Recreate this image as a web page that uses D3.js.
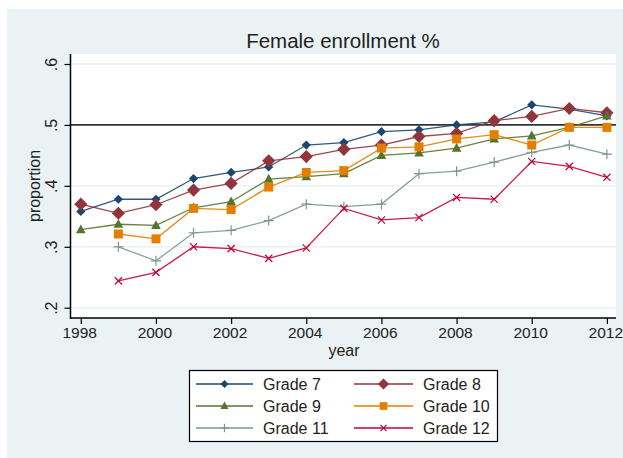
<!DOCTYPE html>
<html><head><meta charset="utf-8">
<script src="https://cdn.jsdelivr.net/npm/d3@7"></script>
<style>body{margin:0;background:#fff}svg{display:block}text{font-family:"Liberation Sans",Arial,sans-serif}</style>
</head><body>
<script>
const years = [1998,1999,2000,2001,2002,2003,2004,2005,2006,2007,2008,2009,2010,2011,2012];
const grade7  = [0.358,0.378,0.378,0.412,0.422,0.431,0.467,0.471,0.489,0.492,0.500,0.505,0.533,0.526,0.515];
const grade8  = [0.370,0.355,0.369,0.393,0.404,0.441,0.448,0.460,0.467,0.481,0.486,0.507,0.514,0.527,0.520];
const grade9  = [0.328,0.337,0.335,0.364,0.374,0.411,0.415,0.420,0.450,0.454,0.462,0.477,0.482,0.496,0.515];
const grade10 = [null,0.321,0.313,0.363,0.361,0.398,0.422,0.425,0.462,0.464,0.477,0.484,0.467,0.496,0.496];
const grade11 = [null,0.300,0.277,0.323,0.327,0.343,0.370,0.366,0.370,0.420,0.424,0.439,0.455,0.467,0.452];
const grade12 = [null,0.244,0.258,0.300,0.297,0.281,0.298,0.363,0.344,0.348,0.381,0.378,0.440,0.432,0.414];
const seriesNames = ["Grade 7","Grade 8","Grade 9","Grade 10","Grade 11","Grade 12"];
const xTicks = [1998,2000,2002,2004,2006,2008,2010,2012];
const yTicks = [0.2,0.3,0.4,0.5,0.6];
const refLine = 0.5;

const colors = ["#1a476f","#90353b","#55752f","#e37e00","#7b978d","#c10534"];
const symbols = ["diamondS","diamondL","triangle","square","plus","cross"];
const seriesData = [grade7,grade8,grade9,grade10,grade11,grade12];

const W=623,H=458;
const svg=d3.select("body").append("svg").attr("width",W).attr("height",H);
svg.append("rect").attr("x",7).attr("y",9).attr("width",W-7).attr("height",H-9).attr("fill","#eaf2f3");
const pl=70.5,pr=616,pt=54,pb=318;
svg.append("rect").attr("x",pl).attr("y",pt).attr("width",pr-pl).attr("height",pb-pt).attr("fill","#fff");

const x=d3.scaleLinear().domain([1998,2012]).range([80.8,606.9]);
const y=d3.scaleLinear().domain([0.2,0.6]).range([307.7,64]);

// gridlines
svg.append("g").selectAll("line").data(yTicks.filter(d=>d!==refLine)).join("line")
  .attr("x1",pl).attr("x2",pr).attr("y1",d=>y(d)).attr("y2",d=>y(d))
  .attr("stroke","#eaf2f3").attr("stroke-width",1.5);
// reference line
svg.append("line").attr("x1",pl).attr("x2",pr).attr("y1",y(refLine)).attr("y2",y(refLine))
  .attr("stroke","#333").attr("stroke-width",1.8);

// axes
const fmt=d=>d3.format(".1f")(d).replace(/^0/,"");
const ya=svg.append("g").attr("transform",`translate(${pl},0)`)
  .call(d3.axisLeft(y).tickValues(yTicks).tickFormat(fmt).tickSize(6).tickSizeOuter(0));
ya.select(".domain").remove();
ya.selectAll(".tick line").attr("stroke","#000").attr("stroke-width",1.2);
ya.selectAll(".tick text").attr("font-size",16).attr("fill","#222")
  .attr("transform","rotate(-90)").attr("x",0).attr("y",-14).attr("dy","0").attr("text-anchor","middle");
svg.append("line").attr("x1",pl).attr("x2",pl).attr("y1",pt).attr("y2",pb+1).attr("stroke","#000").attr("stroke-width",1.5);

const xa=svg.append("g").attr("transform",`translate(0,${pb})`)
  .call(d3.axisBottom(x).tickValues(xTicks).tickFormat(d3.format("d")).tickSize(6).tickSizeOuter(0));
xa.select(".domain").remove();
xa.selectAll(".tick line").attr("stroke","#000").attr("stroke-width",1.2);
xa.selectAll(".tick text").attr("font-size",15.5).attr("fill","#222").attr("y",9).attr("dy","0.71em").attr("dx",-1.6);
svg.append("line").attr("x1",pl).attr("x2",pr).attr("y1",pb).attr("y2",pb).attr("stroke","#000").attr("stroke-width",1.5);

// titles
svg.append("text").attr("x",343).attr("y",48).attr("text-anchor","middle").attr("font-size",20.5).attr("fill","#222").text("Female enrollment %");
svg.append("text").attr("x",344).attr("y",356).attr("text-anchor","middle").attr("font-size",16).attr("fill","#222").text("year");
svg.append("text").attr("transform","translate(40,186) rotate(-90)").attr("text-anchor","middle").attr("font-size",16).attr("fill","#222").text("proportion");

function drawMarker(g,type,cx,cy,color,scale){
  scale=scale||1;
  if(type==="diamondS"){const s=4.6*scale;g.append("path").attr("d",`M${cx},${cy-s}L${cx+s},${cy}L${cx},${cy+s}L${cx-s},${cy}Z`).attr("fill",color);}
  else if(type==="diamondL"){const s=6.6*scale;g.append("path").attr("d",`M${cx},${cy-s}L${cx+s},${cy}L${cx},${cy+s}L${cx-s},${cy}Z`).attr("fill",color);}
  else if(type==="triangle"){const s=4.8*scale;g.append("path").attr("d",`M${cx},${cy-s*1.1}L${cx+s},${cy+s*0.75}L${cx-s},${cy+s*0.75}Z`).attr("fill",color);}
  else if(type==="square"){const s=4.5*scale;g.append("rect").attr("x",cx-s).attr("y",cy-s).attr("width",2*s).attr("height",2*s).attr("fill",color);}
  else if(type==="plus"){const s=5*scale;g.append("path").attr("d",`M${cx-s},${cy}H${cx+s}M${cx},${cy-s}V${cy+s}`).attr("stroke",color).attr("stroke-width",1.2).attr("fill","none");}
  else if(type==="cross"){const s=3.6*scale;g.append("path").attr("d",`M${cx-s},${cy-s}L${cx+s},${cy+s}M${cx-s},${cy+s}L${cx+s},${cy-s}`).attr("stroke",color).attr("stroke-width",1.2).attr("fill","none");}
}

const line=d3.line().defined(d=>d.v!=null).x(d=>x(d.yr)).y(d=>y(d.v));
seriesData.forEach((vals,i)=>{
  const pts=years.map((yr,j)=>({yr,v:vals[j]}));
  const g=svg.append("g");
  g.append("path").datum(pts).attr("d",line).attr("fill","none").attr("stroke",colors[i]).attr("stroke-width",1.3).attr("opacity",0.9);
  pts.filter(d=>d.v!=null).forEach(d=>drawMarker(g,symbols[i],x(d.yr),y(d.v),colors[i]));
});

// legend
const lg=svg.append("g");
lg.append("rect").attr("x",189.5).attr("y",370.5).attr("width",308).attr("height",71).attr("fill","#fff").attr("stroke","#000").attr("stroke-width",1.2);
const rowsY=[384,406,428];
const colX=[{l1:196,l2:253,m:224.5,t:263},{l1:354,l2:413,m:383.5,t:423}];
seriesNames.forEach((nm,i)=>{
  const c=colX[i%2], ry=rowsY[Math.floor(i/2)];
  lg.append("line").attr("x1",c.l1).attr("x2",c.l2).attr("y1",ry).attr("y2",ry).attr("stroke",colors[i]).attr("stroke-width",1.3);
  drawMarker(lg,symbols[i],c.m,ry,colors[i],0.85);
  lg.append("text").attr("x",c.t).attr("y",ry).attr("dy","0.36em").attr("font-size",16).attr("fill","#222").text(nm);
});
</script>
</body></html>
